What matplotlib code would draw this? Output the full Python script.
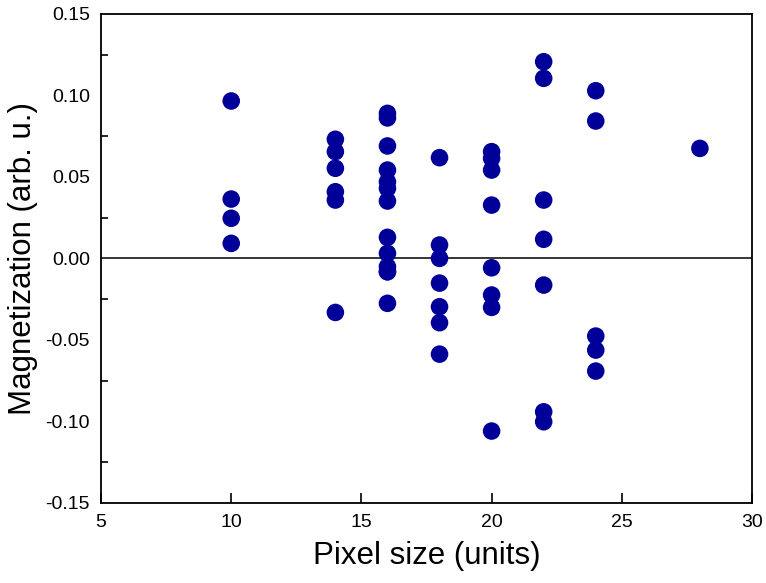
import matplotlib
matplotlib.use("Agg")
import matplotlib.pyplot as plt

plt.rcParams['font.family'] = ['Liberation Sans', 'DejaVu Sans']

# --- dane ---
x_10 = [10, 10, 10, 10]
m_10 = [0.0966, 0.0364, 0.0246, 0.0092]

x_14 = [14, 14, 14, 14, 14, 14]
m_14 = [0.0731, 0.0655, 0.0553, 0.0409, 0.0358, -0.0332]

x_16 = [16] * 13
m_16 = [0.089, 0.0862, 0.069, 0.0542, 0.047, 0.043, 0.0352,
        0.0129, 0.0031, -0.0051, -0.0082, -0.0276, -0.0082]

x_18 = [18] * 7
m_18 = [0.0618, 0.0082, 0.0, -0.0152, -0.0297, -0.0395, -0.0588]

x_20 = [20] * 8
m_20 = [0.0655, 0.0614, 0.0542, 0.0327, -0.0058, -0.0225, -0.0301, -0.106]

x_22 = [22] * 7
m_22 = [0.1207, 0.1105, 0.0358, 0.0117, -0.0164, -0.0942, -0.1003]

x_24 = [24] * 5
m_24 = [0.1029, 0.0843, -0.0477, -0.0563, -0.0692]

x_28 = [28]
m_28 = [0.0675]

xs = x_10 + x_14 + x_16 + x_18 + x_20 + x_22 + x_24 + x_28
ms = m_10 + m_14 + m_16 + m_18 + m_20 + m_22 + m_24 + m_28

y_major = [-0.15, -0.10, -0.05, 0.00, 0.05, 0.10, 0.15]
y_labels = ["-0.15", "-0.10", "-0.05", "0.00", "0.05", "0.10", "0.15"]
y_minor = [-0.125, -0.075, -0.025, 0.025, 0.075, 0.125]
x_major = [5, 10, 15, 20, 25, 30]

fig = plt.figure(figsize=(7.66, 5.83), dpi=100)
ax = fig.add_axes([0.1319, 0.1377, 0.8498, 0.8383])

# linia zerowa
ax.axhline(0, color='black', linewidth=1.1, zorder=1)
ax.scatter(xs, ms, s=160, color='#000099', edgecolors='none', zorder=5)

ax.set_xlim(5, 30)
ax.set_ylim(-0.15, 0.15)
ax.set_xticks(x_major)
ax.set_yticks(y_major)
ax.set_yticklabels(y_labels)
ax.set_yticks(y_minor, minor=True)

ax.tick_params(axis='x', which='major', direction='in', length=7, width=1.2,
               labelsize=14, pad=8)
ax.tick_params(axis='y', which='major', length=0, labelsize=14, pad=8)
ax.tick_params(axis='y', which='minor', direction='in', length=5, width=1.2)

for sp in ax.spines.values():
    sp.set_linewidth(1.3)

ax.set_xlabel("Pixel size (units)", fontsize=22.5, labelpad=7)
ax.set_ylabel("Magnetization (arb. u.)", fontsize=22.5, labelpad=5)

fig.savefig("out.png", dpi=100)
